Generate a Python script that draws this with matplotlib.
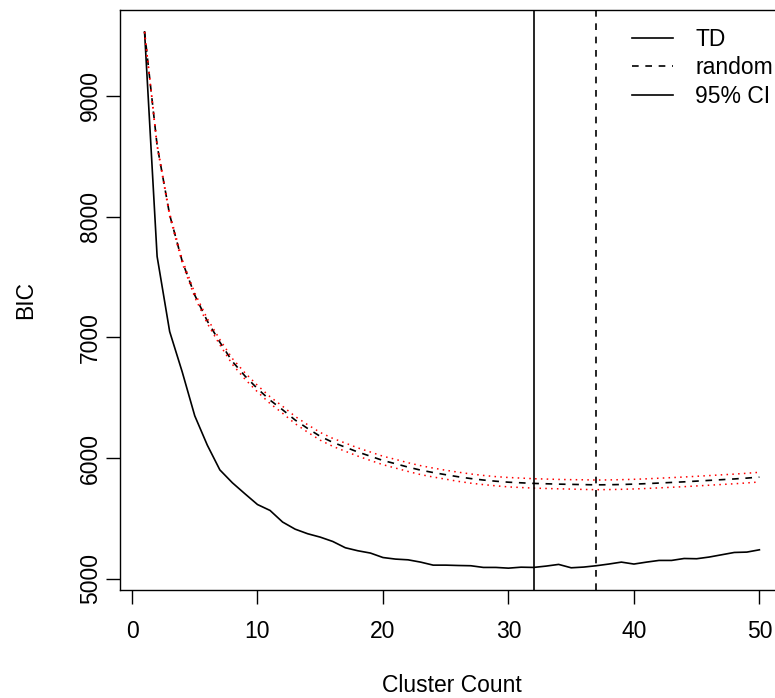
"""BIC against cluster count: TD clustering compared with random assignments."""

import matplotlib
matplotlib.use("Agg")
import matplotlib.pyplot as plt

cluster_count = list(range(1, 51))

bic_td = [
	9530, 7670, 7048, 6714, 6350, 6107, 5902, 5795, 5704, 5615,
	5566, 5470, 5411, 5373, 5345, 5309, 5257, 5232, 5213, 5176,
	5163, 5157, 5138, 5113, 5113, 5110, 5108, 5094, 5094, 5088,
	5096, 5094, 5105, 5119, 5091, 5097, 5108, 5122, 5138, 5122,
	5138, 5152, 5152, 5168, 5166, 5180, 5199, 5218, 5221, 5240,
]

bic_random = [
	9530, 8590, 8015, 7630, 7350, 7135, 6960, 6800, 6680, 6575,
	6480, 6400, 6315, 6245, 6180, 6130, 6090, 6050, 6015, 5980,
	5953, 5925, 5900, 5880, 5862, 5845, 5830, 5818, 5808, 5800,
	5795, 5790, 5787, 5784, 5782, 5780, 5778, 5779, 5781, 5784,
	5788, 5793, 5798, 5803, 5809, 5815, 5821, 5827, 5834, 5842,
]

ci_upper = [
	9530, 8598, 8027, 7645, 7368, 7155, 6982, 6824, 6706, 6602,
	6508, 6429, 6345, 6276, 6212, 6163, 6124, 6084, 6050, 6015,
	5989, 5961, 5937, 5917, 5899, 5883, 5868, 5856, 5846, 5839,
	5834, 5829, 5826, 5823, 5821, 5820, 5818, 5819, 5821, 5824,
	5828, 5833, 5838, 5843, 5849, 5855, 5861, 5867, 5874, 5882,
]

ci_lower = [
	9530, 8582, 8003, 7615, 7332, 7115, 6938, 6776, 6654, 6548,
	6452, 6371, 6285, 6214, 6148, 6097, 6056, 6016, 5980, 5945,
	5917, 5889, 5863, 5843, 5825, 5807, 5792, 5780, 5770, 5761,
	5756, 5751, 5748, 5745, 5743, 5740, 5738, 5739, 5741, 5744,
	5748, 5753, 5758, 5763, 5769, 5775, 5781, 5787, 5794, 5802,
]

# cluster counts with the lowest BIC
best_td = 32
best_random = 37

x_ticks = [0, 10, 20, 30, 40, 50]
y_ticks = [5000, 6000, 7000, 8000, 9000]
legend_labels = ["TD", "random", "95% CI"]


def plot(outpath: str) -> None:
	plt.rcParams.update({
		"font.family": ["Liberation Sans", "DejaVu Sans"],
		"font.size": 16.5,
	})
	fig = plt.figure(figsize=(7.75, 6.98), dpi=100)
	# plot region runs a little past the right edge of the canvas
	ax = fig.add_axes([0.1548, 0.1553, 0.8568, 0.8297])

	lw = 1.2
	td_line, = ax.plot(cluster_count, bic_td, color="black", lw=lw)
	rnd_line, = ax.plot(cluster_count, bic_random, color="black", lw=lw, linestyle=(0, (4, 4)))
	ax.plot(cluster_count, ci_upper, color="red", lw=1.1, linestyle=(0, (1, 2.8)))
	ax.plot(cluster_count, ci_lower, color="red", lw=1.1, linestyle=(0, (1, 2.8)))
	ax.axvline(best_td, color="black", lw=lw)
	ax.axvline(best_random, color="black", lw=lw, linestyle=(0, (4, 4)))

	# R-style axis ranges (4% padding)
	span_x = max(cluster_count) - min(cluster_count)
	ax.set_xlim(min(cluster_count) - 0.04 * span_x, max(cluster_count) + 0.04 * span_x)
	lo = min(bic_td + ci_lower)
	hi = max(bic_td + ci_upper)
	ax.set_ylim(lo - 0.04 * (hi - lo), hi + 0.04 * (hi - lo))

	ax.set_xticks(x_ticks)
	ax.set_yticks(y_ticks)
	ax.tick_params(direction="out", length=10, width=1.0, color="black")
	ax.tick_params(axis="x", pad=12)
	ax.tick_params(axis="y", pad=3)
	for lab in ax.get_yticklabels():
		lab.set_rotation(90)
		lab.set_va("center")
	for sp in ax.spines.values():
		sp.set_linewidth(1.0)

	ax.set_xlabel("Cluster Count", labelpad=22)
	ax.set_ylabel("BIC", labelpad=30)

	ax.legend(
		[td_line, rnd_line, td_line], legend_labels,
		loc="upper left", bbox_to_anchor=(632 / 775, 1 - 28 / 698),
		bbox_transform=fig.transFigure, frameon=False,
		borderpad=0, borderaxespad=0, handlelength=1.79,
		handletextpad=0.96, labelspacing=0.23,
	)

	fig.savefig(outpath, dpi=100)


if __name__ == "__main__":
	plot("out.png")
